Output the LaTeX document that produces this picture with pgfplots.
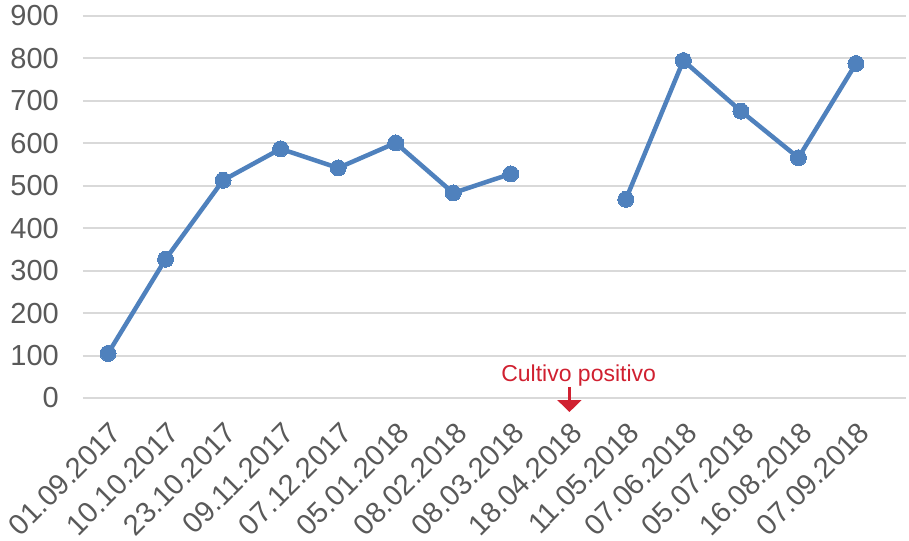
\documentclass[border=0pt]{standalone}
\usepackage{pgfplots}
\pgfplotsset{compat=1.18}
\usetikzlibrary{arrows.meta}
\usepackage{fontspec}
\setmainfont{Liberation Sans}
\definecolor{lineblue}{HTML}{4F81BD}
\definecolor{gridgray}{HTML}{D9D9D9}
\definecolor{txtgray}{HTML}{595959}
\definecolor{annred}{HTML}{D02030}
\begin{document}
\begin{tikzpicture}
\begin{axis}[
  name=main,
  scale only axis,
  width=823pt, height=382pt,
  xmin=-0.435, xmax=13.87,
  ymin=0, ymax=900,
  ytick={0,100,...,900},
  xtick={0,...,13},
  xticklabels={01.09.2017,10.10.2017,23.10.2017,09.11.2017,07.12.2017,05.01.2018,08.02.2018,08.03.2018,18.04.2018,11.05.2018,07.06.2018,05.07.2018,16.08.2018,07.09.2018},
  axis line style={draw=none},
  major tick length=0pt,
  ymajorgrids,
  grid style={gridgray, line width=2pt},
  tick label style={font=\fontsize{29}{32}\selectfont, text=txtgray},
  /pgf/number format/assume math mode=true,
  yticklabel style={inner sep=0pt, xshift=-24pt},
  xticklabel style={inner sep=0pt, xshift=1pt, yshift=-22pt, rotate=45, anchor=north east},
  unbounded coords=jump,
  clip=false,
]
\addplot[lineblue, line width=4.5pt, mark=*, mark size=8pt, mark options={fill=lineblue, draw=lineblue, line width=0pt}]
coordinates {
(0,105) (1,327) (2,513) (3,587) (4,542) (5,601) (6,483) (7,528) (8,nan) (9,468) (10,795) (11,676) (12,566) (13,788)
};
\node[text=annred, font=\fontsize{23}{26}\selectfont, anchor=base, inner sep=0pt] at (axis cs:8.18,38) {Cultivo positivo};
\draw[annred, line width=2.5pt, -{Triangle[length=12pt,width=24pt]}] (axis cs:8.02,26) -- (axis cs:8.02,-33);
\end{axis}
\pgfresetboundingbox
\path (main.south west) ++(-83pt,-143pt) rectangle ([shift={(3pt,16pt)}]main.north east);
\end{tikzpicture}
\end{document}
